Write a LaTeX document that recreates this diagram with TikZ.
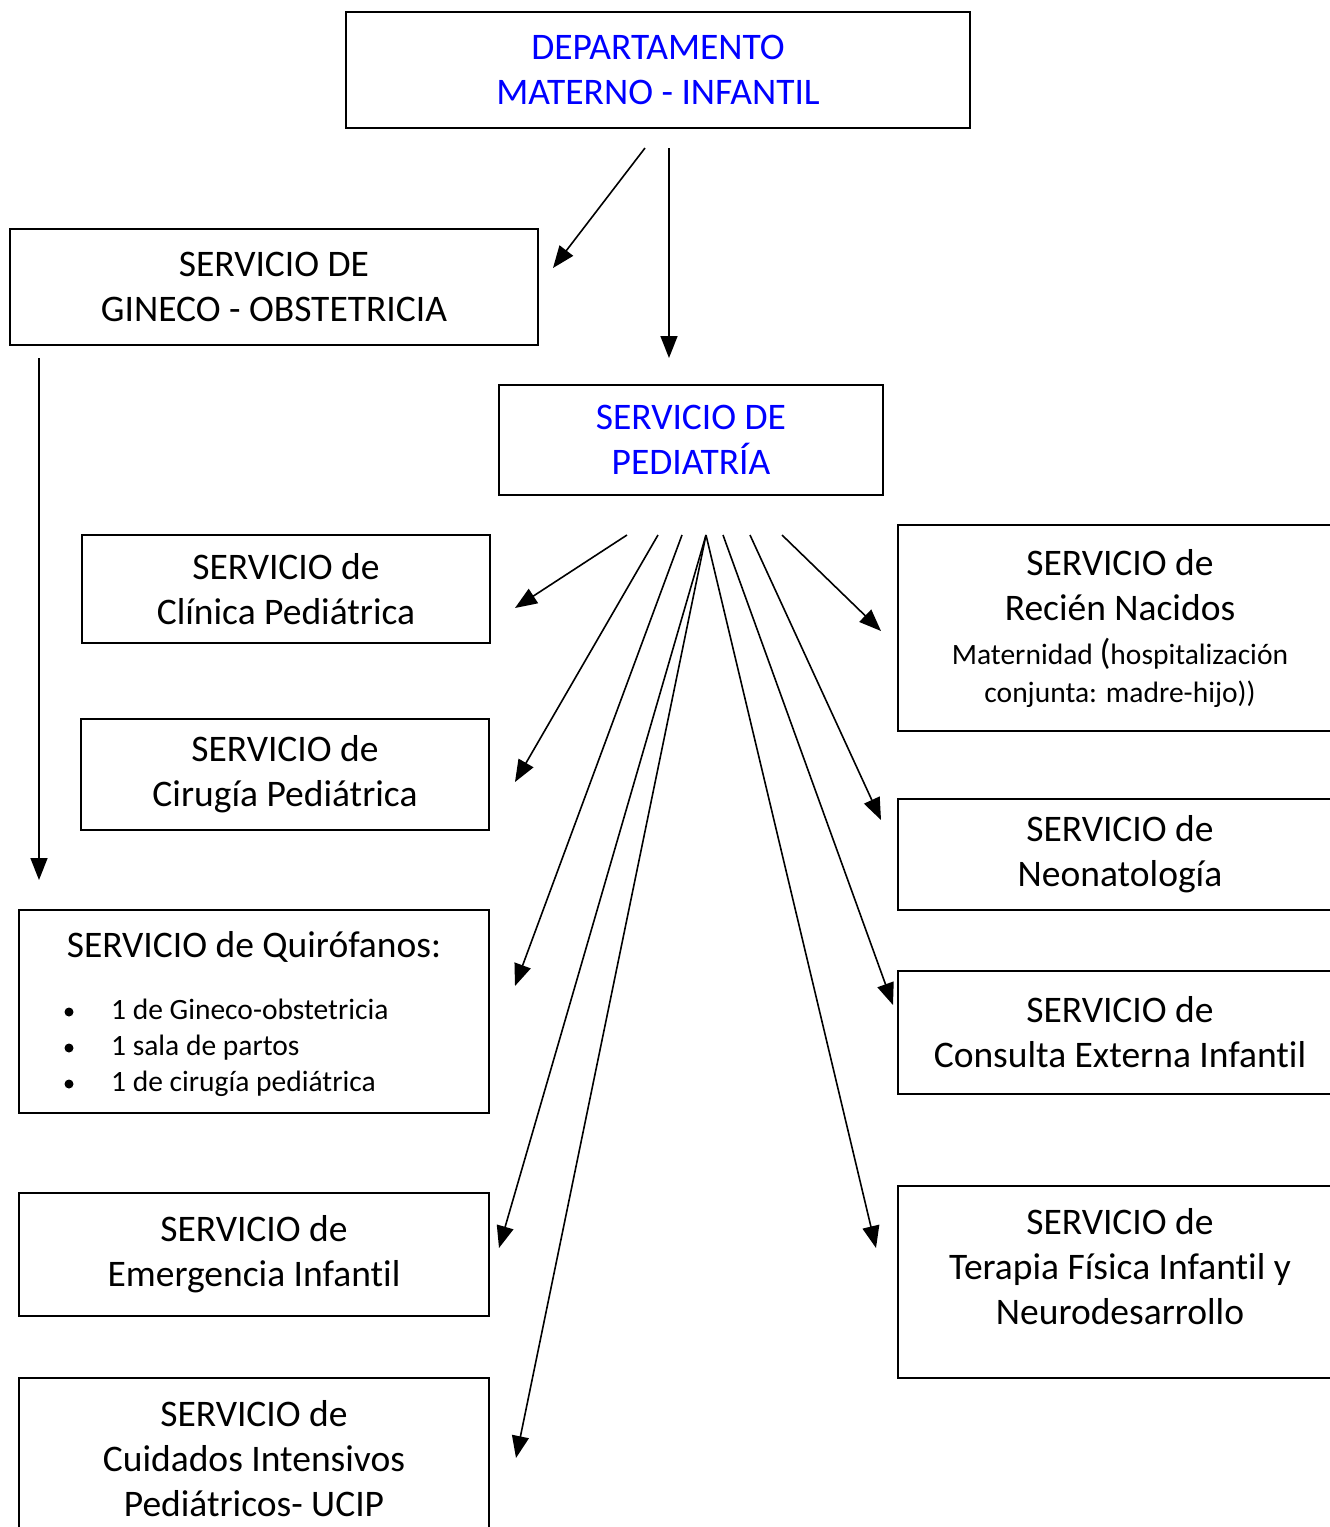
\documentclass[tikz,border=0pt]{standalone}
\usepackage{fontspec}
\setmainfont{Carlito}[Ligatures=NoCommon]
\usetikzlibrary{arrows.meta,positioning}

\tikzset{
  box/.style={draw, line width=1.5pt, align=center, inner sep=0pt,
    font=\fontsize{37.5}{45}\selectfont},
  bigtext/.style={align=center, inner sep=0pt, font=\fontsize{37.5}{45}\selectfont},
  smalltext/.style={align=center, inner sep=0pt, font=\fontsize{29.5}{38}\selectfont},
  item/.style={inner sep=0pt, text height=21pt, text depth=7pt,
    font=\fontsize{29.5}{38}\selectfont},
  arr/.style={line width=1.6pt, -{Triangle[length=22pt,width=17pt]}}
}

\begin{document}
\begin{tikzpicture}[x=1pt,y=-1pt]
    \useasboundingbox (0,0) rectangle (1330,1527);
    \clip (0,0) rectangle (1330,1527);

    % Top level
    \node[box, text=blue, minimum width=624pt, minimum height=116pt] (dept) at (658,70)
        {DEPARTAMENTO\\MATERNO - INFANTIL};
    \node[box, minimum width=528pt, minimum height=116pt] (gineco) at (274,287)
        {SERVICIO DE\\GINECO - OBSTETRICIA};
    \node[box, text=blue, minimum width=384pt, minimum height=110pt] (pedia) at (691,440)
        {SERVICIO DE\\PEDIATRÍA};

    % Left column
    \node[box, minimum width=408pt, minimum height=108pt] (clinica) at (286,589)
        {SERVICIO de\\Clínica Pediátrica};
    \node[box, minimum width=408pt, minimum height=111pt] (cirugia) at (285,774.5)
        {SERVICIO de\\Cirugía Pediátrica};
    \node[box, minimum width=470pt, minimum height=203pt] (quir) at (254,1011.5) {};
    \node[bigtext] (quirtitle) at (254,947) {SERVICIO de Quirófanos:};
    \foreach \y/\txt [count=\i] in {1012/1 de Gineco-obstetricia,1048/1 sala de partos,1084/1 de cirugía pediátrica} {
        \fill (69,\y) circle (4.5pt);
        \node[item, anchor=west] (quir\i) at (111,\y) {\txt};
    }
    \node[box, minimum width=470pt, minimum height=123pt] (emerg) at (254,1254.5)
        {SERVICIO de\\Emergencia Infantil};
    \node[box, minimum width=470pt, minimum height=162pt] (ucip) at (254,1459)
        {SERVICIO de\\Cuidados Intensivos\\Pediátricos- UCIP};

    % Right column
    \node[box, minimum width=444pt, minimum height=206pt] (recien) at (1120,628) {};
    \node[bigtext] (recientitle) at (1120,585) {SERVICIO de\\Recién Nacidos};
    \node[smalltext] (reciennote) at (1120,673)
        {Maternidad {\fontsize{36}{38}\selectfont(}hospitalización\\conjunta: madre-hijo))};
    \node[box, minimum width=444pt, minimum height=111pt] (neonat) at (1120,854.5)
        {SERVICIO de\\Neonatología};
    \node[box, minimum width=444pt, minimum height=123pt] (consulta) at (1120,1032.5)
        {SERVICIO de\\Consulta Externa Infantil};
    \node[box, minimum width=444pt, minimum height=192pt] (terapia) at (1120,1282) {};
    \node[bigtext] (terapiatext) at (1120,1267)
        {SERVICIO de\\Terapia Física Infantil y\\Neurodesarrollo};

    % Arrow ends
    \coordinate (d1) at (645,148);  \coordinate (g1) at (553,268);
    \coordinate (d2) at (669,148);  \coordinate (p0) at (669,358);
    \coordinate (g2) at (39,358);   \coordinate (q0) at (39,880);
    \coordinate (s1) at (627,535);  \coordinate (e1) at (515,608);
    \coordinate (s2) at (658,535);  \coordinate (e2) at (515,782);
    \coordinate (s3) at (682,535);  \coordinate (e3) at (515,986);
    \coordinate (s4) at (706,535);  \coordinate (e4) at (499,1248);
                                    \coordinate (e5) at (516,1458);
                                    \coordinate (e6) at (876,1248);
    \coordinate (s5) at (723,535);  \coordinate (e7) at (893,1005);
    \coordinate (s6) at (750,535);  \coordinate (e8) at (881,820);
    \coordinate (s7) at (782,535);  \coordinate (e9) at (881,631);

    % Arrows
    \draw[arr] (d1) -- (g1);
    \draw[arr] (d2) -- (p0);
    \draw[arr] (g2) -- (q0);
    \draw[arr] (s1) -- (e1);
    \draw[arr] (s2) -- (e2);
    \draw[arr] (s3) -- (e3);
    \draw[arr] (s4) -- (e4);
    \draw[arr] (s4) -- (e5);
    \draw[arr] (s4) -- (e6);
    \draw[arr] (s5) -- (e7);
    \draw[arr] (s6) -- (e8);
    \draw[arr] (s7) -- (e9);
\end{tikzpicture}
\end{document}
